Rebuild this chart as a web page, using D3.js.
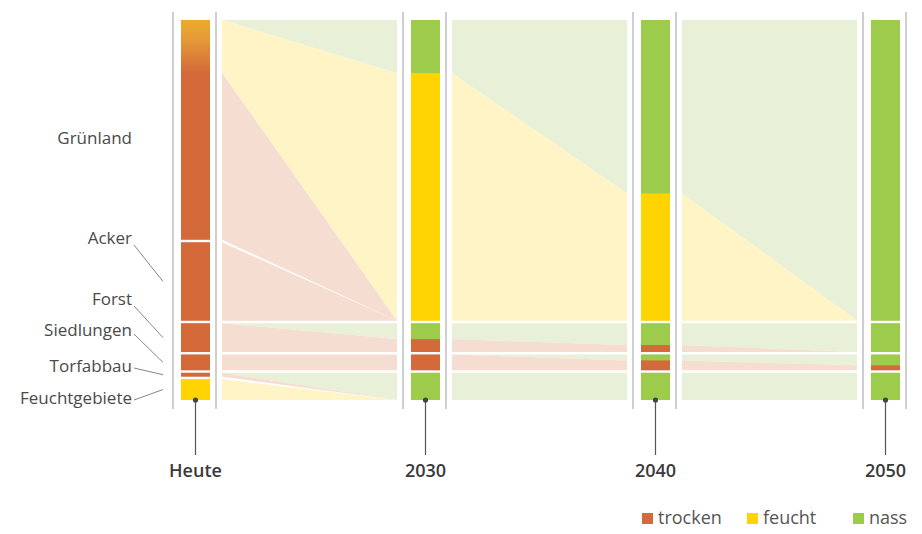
<!DOCTYPE html>
<html>
<head>
<meta charset="utf-8">
<script src="https://cdn.jsdelivr.net/npm/d3@7"></script>
<style>
  body { margin: 0; background: #fff; }
  svg { display: block; font-family: "Open Sans", sans-serif; }
</style>
</head>
<body>
<svg width="922" height="534"></svg>
<script>
// Zeitpunkte und Flächenkategorien
const years = ["Heute", "2030", "2040", "2050"];
const categories = ["Grünland", "Acker", "Forst", "Siedlungen", "Torfabbau", "Feuchtgebiete"];
// ab 2030 werden Grünland+Acker und Torfabbau+Feuchtgebiete zusammengefasst
const categoryGroup = [0, 0, 1, 2, 3, 3];
const classes = ["nass", "feucht", "trocken"];   // Reihenfolge von oben nach unten
const legendClasses = ["trocken", "feucht", "nass"];

// Heute, je Kategorie (relative Fläche)
const heuteNass    = [0, 0, 0, 0, 0, 0];
const heuteFeucht  = [53, 0, 0, 0, 0, 21];
const heuteTrocken = [168, 79, 29, 16, 4, 0];

// Szenario, je Gruppe (Grünland/Acker, Forst, Siedlungen, Torfabbau/Feuchtgebiete)
const nass2030    = [53, 16, 0, 25];
const feucht2030  = [247, 0, 0, 0];
const trocken2030 = [0, 13, 16, 0];

const nass2040    = [173, 22, 6, 25];
const feucht2040  = [127, 0, 0, 0];
const trocken2040 = [0, 7, 10, 0];

const nass2050    = [300, 29, 11, 25];
const feucht2050  = [0, 0, 0, 0];
const trocken2050 = [0, 0, 5, 0];

const groupValues = [
  null,
  {nass: nass2030, feucht: feucht2030, trocken: trocken2030},
  {nass: nass2040, feucht: feucht2040, trocken: trocken2040},
  {nass: nass2050, feucht: feucht2050, trocken: trocken2050}
];

const color = {trocken: "#d4693a", feucht: "#ffd400", nass: "#9dcb4b"};
const tint  = {trocken: "#f5ddd2", feucht: "#fff4c6", nass: "#e8f1d7"};

const svg = d3.select("svg");
const yTop = 20, yBottom = 400, gap = 2.4, barW = 29;

const x = d3.scalePoint().domain(years).range([195.5, 885.5]);

const catTotals = categories.map((c, i) => heuteNass[i] + heuteFeucht[i] + heuteTrocken[i]);
const totalArea = d3.sum(catTotals);
const y = d3.scaleLinear()
  .domain([0, totalArea])
  .range([yTop, yBottom - gap * (categories.length - 1)]);

const cum = Array.from(d3.cumsum([0].concat(catTotals)));
const catTop = i => y(cum[i]) + i * gap;
const catBottom = i => y(cum[i + 1]) + i * gap;

// Spannweite der Gruppen
const groups = d3.range(4).map(g => {
  const idx = categories.map((c, i) => i).filter(i => categoryGroup[i] === g);
  return {members: idx, y0: catTop(idx[0]), y1: catBottom(idx[idx.length - 1])};
});

// Stapel einer Einheit: nass, feucht, trocken
function stack(y0, y1, vals) {
  const s = d3.scaleLinear().domain([0, d3.sum(vals)]).range([y0, y1]);
  const c = Array.from(d3.cumsum([0].concat(vals)));
  const out = {};
  classes.forEach((k, j) => out[k] = [s(c[j]), s(c[j + 1])]);
  return out;
}

// Einheiten je Zeitpunkt
const units = years.map((yr, k) => {
  if (k === 0) {
    return categories.map((c, i) => ({
      group: categoryGroup[i],
      y0: catTop(i), y1: catBottom(i),
      vals: {nass: heuteNass[i], feucht: heuteFeucht[i], trocken: heuteTrocken[i]},
      segs: stack(catTop(i), catBottom(i), [heuteNass[i], heuteFeucht[i], heuteTrocken[i]])
    }));
  }
  const gv = groupValues[k];
  return groups.map((g, gi) => ({
    group: gi,
    y0: g.y0, y1: g.y1,
    vals: {nass: gv.nass[gi], feucht: gv.feucht[gi], trocken: gv.trocken[gi]},
    segs: stack(g.y0, g.y1, [gv.nass[gi], gv.feucht[gi], gv.trocken[gi]])
  }));
});

// Gradient für den Grünland-Balken heute
const defs = svg.append("defs");
const grad = defs.append("linearGradient").attr("id", "gruen-heute")
  .attr("x1", 0).attr("y1", 0).attr("x2", 0).attr("y2", 1);
grad.append("stop").attr("offset", "0%").attr("stop-color", "#eaab2c");
grad.append("stop").attr("offset", "35%").attr("stop-color", "#e69a38");
grad.append("stop").attr("offset", "100%").attr("stop-color", "#d4693a");

// Flüsse
const area = d3.area().x(d => d.x).y0(d => d.y0).y1(d => d.y1);
const flowG = svg.append("g");
for (let k = 0; k < years.length - 1; k++) {
  const x0 = x(years[k]) + 26.5;
  const x1 = x(years[k + 1]) - 28.5;
  const left = units[k], right = units[k + 1];
  right.forEach(r => {
    const members = left.filter(u => u.group === r.group);
    classes.forEach(c => {
      const sumL = d3.sum(members, u => u.vals[c]);
      const rs = d3.scaleLinear().domain([0, 1]).range(r.segs[c]);
      let acc = 0;
      members.forEach((u, mi) => {
        let share;
        if (sumL > 0) share = u.vals[c] / sumL;
        else share = mi === 0 ? 1 : 0;
        const pts = [
          {x: x0, y0: u.segs[c][0], y1: u.segs[c][1]},
          {x: x1, y0: rs(acc), y1: rs(acc + share)}
        ];
        acc += share;
        if (pts[0].y1 - pts[0].y0 < 0.01 && pts[1].y1 - pts[1].y0 < 0.01) return;
        flowG.append("path").attr("d", area(pts)).attr("fill", tint[c]);
      });
    });
  });
}

// Graue Begrenzungslinien
years.forEach(yr => {
  [-22.5, 20.5].forEach(dx => {
    svg.append("line")
      .attr("x1", x(yr) + dx).attr("x2", x(yr) + dx)
      .attr("y1", 12).attr("y2", 409)
      .attr("stroke", "#b9b9bd").attr("stroke-width", 1.4);
  });
});

// Balken
years.forEach((yr, k) => {
  const g = svg.append("g");
  units[k].forEach((u, ui) => {
    classes.forEach(c => {
      const [s0, s1] = u.segs[c];
      if (s1 - s0 < 0.01) return;
      let fill = color[c];
      if (k === 0 && ui === 0 && c === "feucht") fill = "url(#gruen-heute)";
      // kleine Überlappung innerhalb einer Einheit, damit keine Naht entsteht
      const h = Math.min(s1 + 0.6, u.y1) - s0;
      g.append("rect")
        .attr("x", x(yr) - barW / 2).attr("width", barW)
        .attr("y", s0).attr("height", h)
        .attr("fill", fill);
    });
  });
  // Zeiger zur Jahreszahl
  svg.append("line")
    .attr("x1", x(yr)).attr("x2", x(yr))
    .attr("y1", yBottom).attr("y2", 455)
    .attr("stroke", "#555").attr("stroke-width", 1.2);
  svg.append("circle")
    .attr("cx", x(yr)).attr("cy", yBottom).attr("r", 2.6).attr("fill", "#444");
  svg.append("text")
    .attr("x", x(yr)).attr("y", 477)
    .attr("text-anchor", "middle")
    .attr("font-size", 18).attr("font-weight", 600)
    .attr("fill", "#3a3a3a")
    .text(yr);
});

// Beschriftung der Kategorien links
const labelY = [138, 238, 299, 330, 366, 398];
const labelG = svg.append("g");
categories.forEach((c, i) => {
  labelG.append("text")
    .attr("x", 132).attr("y", labelY[i])
    .attr("dy", "0.35em")
    .attr("text-anchor", "end")
    .attr("font-size", 17)
    .attr("fill", "#4a4a4a")
    .text(c);
  if (i === 0) return;
  const mid = (catTop(i) + catBottom(i)) / 2;
  const startDy = [0, 7, 7, 4, 2, 2][i];
  labelG.append("line")
    .attr("x1", 134).attr("y1", labelY[i] + startDy)
    .attr("x2", 163).attr("y2", mid)
    .attr("stroke", "#777").attr("stroke-width", 0.9);
});

// Legende
const legX = [642, 747, 853];
legendClasses.forEach((c, i) => {
  svg.append("rect")
    .attr("x", legX[i]).attr("y", 513).attr("width", 11).attr("height", 11)
    .attr("fill", color[c]);
  svg.append("text")
    .attr("x", legX[i] + 16).attr("y", 524)
    .attr("font-size", 18).attr("fill", "#555")
    .text(c);
});
</script>
</body>
</html>
